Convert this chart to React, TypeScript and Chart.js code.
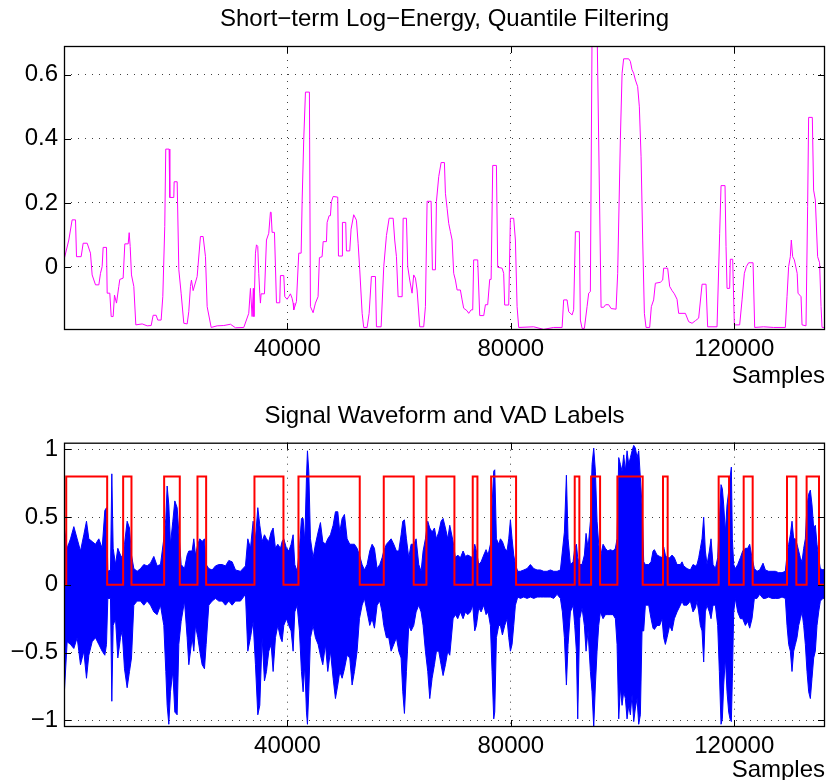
import React, { useEffect, useRef } from 'react';
import { Chart, registerables } from 'chart.js';

Chart.register(...registerables);

// ---------- data ----------
const X_MAX = 136250;

const xTickValues = [40000, 80000, 120000];
const xTickLabels = ['40000', '80000', '120000'];

const energyTickValues = [0, 0.2, 0.4, 0.6];
const energyTickLabels = ['0', '0.2', '0.4', '0.6'];

const waveTickValues = [-1, -0.5, 0, 0.5, 1];
const waveTickLabels = ['\u22121', '\u22120.5', '0', '0.5', '1'];

const energyX = [
  0, 860, 1460, 2060, 2240, 3070, 3430, 4150, 4740, 5040, 5640, 6240, 6530, 6830, 7010, 7610, 7730, 8200, 8450, 8800,
  9040, 9400, 9810, 9990, 10590, 10890, 11490, 11670, 11850, 12080, 12500, 12860, 14000, 14890, 15610, 15960, 16500,
  16790, 17390, 17690, 18040, 18220, 18820, 18940, 19660, 19720, 20260, 20560, 20970, 21450, 22050, 22340, 22640,
  22820, 23120, 23840, 24430, 24910, 25330, 25630, 26350, 27420, 28610, 29800, 30700, 32190, 33080,
  33380, 33680, 33900, 34000, 34280, 34460, 34690, 34870, 35050, 35170, 35290, 35890, 36250, 36660, 36960, 37080,
  37260, 37680, 37860, 38040, 38630, 38750, 39350, 39530, 39950, 40240, 40540, 40840, 41020, 41140, 41620, 42030,
  42460, 42640, 42920, 43230, 43940, 44120, 44600, 45020, 45490, 45730, 46210, 46400, 46990, 47110, 47470, 47700,
  47880, 48190, 49010, 49140, 49790, 49850, 50440, 50570, 51160, 51400, 51870, 52360, 52660, 52950, 53380, 53660,
  54270, 54630, 55040, 55760, 55940, 56780, 57250, 57730, 58210, 58930, 59210, 59520, 59820, 60540, 60720, 61310,
  61540, 61900, 62320, 62610, 62920, 63220, 63690, 64400, 64710, 65010, 65730, 65960, 66500, 66680, 67090, 67520,
  68110, 68290, 68590, 68880, 69180, 69490, 69770, 70080, 70380, 70970, 71280, 71560, 72170, 72460, 72890, 73180,
  73350, 74070, 74430, 75150, 75450, 75860, 76220, 76470, 76760, 77420, 77650, 78440, 78720, 78900, 79620, 79920,
  80510, 80820, 81120, 81410, 84090, 85880, 87670, 89180, 89460, 90070, 90360, 90970, 91250, 91560, 92270, 92450,
  92760, 93170, 93650, 93940, 94240, 94550, 95440, 96160, 96620, 96980, 97520, 97950, 98840, 99130, 99610, 99920,
  100200, 101100, 101400, 101700, 101990, 102300, 102710, 103010, 103320, 103610, 103910, 104210, 104860, 105160,
  105570, 105880, 106770, 107190, 107360, 108080, 108440, 108870, 109280, 109760, 110050, 111250, 111840, 112450,
  113040, 113630, 114240, 114950, 115240, 116920, 117390, 117640, 118350, 118530, 118710, 119180, 119300, 119720,
  120020, 120970, 121400, 121810, 122170, 122580, 123370, 123660, 125260, 127050, 129150, 129450, 129740, 130040,
  130220, 130460, 130760, 131270, 131420, 131960, 132140, 132850, 133140, 133320, 133980, 134210, 134520, 134930,
  135280, 135540, 135720, 136250,
];
const energyY = [
  0.022, 0.084, 0.147, 0.147, 0.032, 0.032, 0.074, 0.074, 0.043, -0.025, -0.056, -0.056, -0.02, 0.001, 0.061, 0.061,
  -0.082, -0.082, -0.155, -0.155, -0.088, -0.113, -0.061, -0.039, -0.035, 0.072, 0.072, 0.107, 0.064, -0.025, -0.061,
  -0.181, -0.178, -0.184, -0.183, -0.151, -0.151, -0.166, -0.166, -0.093, 0.126, 0.368, 0.368, 0.217, 0.217, 0.266,
  0.266, -0.009, -0.082, -0.176, -0.178, -0.14, -0.061, -0.041, -0.074, -0.03, 0.095, 0.095, 0.032, -0.124, -0.189,
  -0.184, -0.183, -0.179, -0.19, -0.189, -0.145,
  -0.067, -0.155, -0.067, -0.155, 0.043, 0.069, 0.064, -0.02, -0.082, -0.113, -0.084, -0.084, 0.084, 0.105, 0.171,
  0.171, 0.108, 0.108, 0.001, -0.112, -0.112, -0.027, -0.027, -0.093, -0.101, -0.093, -0.084, -0.098, -0.113, -0.134,
  -0.108, 0.043, 0.043, 0.209, 0.397, 0.546, 0.546, -0.124, -0.143, -0.113, -0.093, 0.029, 0.032, 0.079, 0.079,
  0.139, 0.16, 0.16, 0.204, 0.22, 0.218, 0.034, 0.034, 0.139, 0.139, 0.05, 0.05, 0.118, 0.163, 0.146, 0.074, -0.009,
  -0.145, -0.189, -0.189, -0.145, -0.03, -0.03, -0.187, -0.187, 0.001, 0.098, 0.152, 0.152, 0.084, 0.032, -0.093,
  -0.093, 0.152, 0.152, 0.001, -0.041, -0.082, -0.025, -0.035, -0.072, -0.187, -0.187, -0.124, 0.205, 0.205, -0.009,
  -0.009, 0.204, 0.282, 0.326, 0.326, 0.23, 0.183, 0.136, 0.11, 0.084, -0.02, -0.041, -0.072, -0.072, -0.103,
  -0.129, -0.137, -0.145, -0.134, -0.134, 0.022, 0.022, -0.152, -0.152, -0.118, -0.118, -0.039, -0.039, 0.317, 0.317,
  -0.001, -0.004, -0.02, -0.119, -0.119, 0.152, 0.152, 0.084, -0.124, -0.189, -0.187, -0.195, -0.189, -0.189,
  -0.103, -0.103, -0.14, -0.15, -0.134, 0.11, 0.11, -0.166, -0.192, -0.192, -0.124, -0.082, -0.077, 0.75, 0.75,
  -0.126, -0.126, -0.118, -0.118, -0.13, -0.132, -0.02, 0.397, 0.605, 0.65, 0.65, 0.642, 0.616, 0.605, 0.584,
  0.563, 0.5, 0.344, 0.084, -0.145, -0.189, -0.189, -0.124, -0.103, -0.051, -0.048, -0.041, -0.004, -0.004, -0.061,
  -0.074, -0.084, -0.101, -0.145, -0.145, -0.171, -0.176, -0.168, -0.16, -0.054, -0.054, -0.187, -0.187, 0.105,
  0.254, 0.254, 0.064, -0.067, -0.067, 0.024, 0.024, -0.181, -0.181, -0.103, -0.02, 0.001, 0.013, 0.013, -0.189,
  -0.187, -0.189, -0.189, -0.093, 0.001, 0.032, 0.084, 0.032, 0.022, -0.02, -0.082, -0.093, -0.181, -0.184, 0.188,
  0.467, 0.467, 0.24, 0.209, 0.032, 0.013, -0.124, -0.189, -0.189,
];

const waveX = [
  0, 567, 1163, 1760, 2357, 2954, 3550, 4028, 4445, 5042, 5639, 6235, 6832, 7310, 7608, 7847, 8324, 8563, 8801, 9219,
  9637, 10114, 10412, 10830, 11307, 11725, 12083, 12501, 13097, 13694, 14291, 14888, 15484, 16081, 16678, 17274,
  17871, 18230, 18468, 18767, 19065, 19483, 19841, 20258, 20557, 20974, 21571, 22048, 22347, 22943, 23242, 23540,
  23958, 24316, 24733, 25151, 25450, 25927, 26524, 27120, 27717, 28314, 28910, 29507, 30104, 30700, 31595, 32490,
  32908, 33385, 33862, 34280, 34698, 35056,
  35472, 35890, 36248, 36666, 37084, 37442, 37859, 38277, 38754, 39053, 39351, 39828, 40246, 40664, 41022, 41320,
  41738, 42155, 42513, 42812, 43110, 43409, 43588, 43826, 44125, 44602, 45020, 45497, 45915, 46333, 46810, 47227,
  47705, 48182, 48600, 49018, 49376, 49793, 50211, 50688, 51166, 51583, 52001, 52478, 52896, 53373, 53791, 54268,
  54746, 55164, 55581, 56059, 56536, 56954, 57252, 57729, 58147, 58565, 59042, 59519, 59937, 60355, 60654, 60952,
  61310, 61727, 62145, 62622, 63040, 63517, 63935, 64293, 64711, 65128, 65486, 65904, 66322, 66680, 67098, 67515,
  67873, 68291, 68709, 69067,
  69661, 70079, 70497, 70974, 71452, 71869, 72287, 72764, 73182, 73540, 73838, 74256, 74674, 75151, 75569, 75927,
  76345, 76643, 76941, 77120, 77419, 77836, 78135, 78493, 78910, 79328, 79626, 79925, 80223, 80521, 80820, 81237,
  81715, 82312, 82908, 83505, 84102, 84698, 85295, 85892, 86488, 87085, 87682, 88279, 88875, 89233, 89591, 89949,
  90248, 90665, 91143, 91441, 91740, 91978, 92336, 92754, 93171, 93470, 93828, 94246, 94544, 94842, 95141, 95439,
  95737, 96036, 96513, 96931, 97348, 97826, 98303, 98721, 99019, 99318, 99616, 99915, 100213, 100511, 100810,
  101108, 101406, 101705, 102003, 102302, 102600, 102898,
  103194, 103492, 103791, 104089, 104686, 105104, 105462, 105700, 106178, 106655, 107073, 107371, 107669, 107968,
  108445, 108863, 109280, 109758, 110355, 110653, 110951, 111548, 112145, 112622, 113040, 113338, 113636, 113935,
  114233, 114531, 114830, 115128, 115546, 115844, 116202, 116620, 117038, 117336, 117634, 117873, 118112, 118410,
  118708, 119007, 119245, 119484, 119663, 119902, 120200, 120618, 121095, 121513, 121990, 122408, 122766, 123184,
  123601, 124079, 124556, 125153, 125571, 126167, 126764, 127360, 127957, 128554, 129151, 129449, 129747, 130046,
  130344, 130642, 130941, 131239, 131538, 131836, 132134, 132433, 132731, 133030, 133328, 133626, 133925, 134223,
  134521, 134820, 135118, 135416, 135894, 136250,
];
const waveUpper = [
  0.44, 0.27, 0.34, 0.43, 0.34, 0.25, 0.37, 0.47, 0.34, 0.32, 0.30, 0.34, 0.27, 0.55, 0.57, 0.10, 0.11, 0.82, 0.27,
  0.15, 0.27, 0.22, 0.20, 0.30, 0.47, 0.42, 0.22, 0.12, 0.10, 0.12, 0.15, 0.14, 0.16, 0.21, 0.14, 0.15, 0.34, 0.49,
  0.73, 0.59, 0.30, 0.47, 0.62, 0.57, 0.39, 0.15, 0.12, 0.22, 0.25, 0.25, 0.34, 0.22, 0.30, 0.34, 0.32, 0.34, 0.15,
  0.12, 0.11, 0.14, 0.15, 0.15, 0.14, 0.18, 0.17, 0.11, 0.10, 0.14, 0.34, 0.27, 0.47, 0.34, 0.57, 0.44,
  0.32, 0.37, 0.34, 0.32, 0.39, 0.42, 0.27, 0.30, 0.27, 0.32, 0.34, 0.27, 0.25, 0.30, 0.37, 0.15, 0.10, 0.27, 0.49,
  0.49, 0.32, 0.79, 0.99, 0.84, 0.34, 0.20, 0.30, 0.39, 0.46, 0.32, 0.30, 0.34, 0.37, 0.44, 0.54, 0.54, 0.39, 0.49,
  0.52, 0.34, 0.30, 0.30, 0.30, 0.27, 0.22, 0.15, 0.11, 0.15, 0.25, 0.30, 0.27, 0.12, 0.15, 0.20, 0.25, 0.30, 0.32,
  0.34, 0.30, 0.25, 0.25, 0.37, 0.47, 0.48, 0.34, 0.20, 0.30, 0.30, 0.34, 0.15, 0.10, 0.25, 0.34, 0.47, 0.42, 0.39,
  0.42, 0.34, 0.39, 0.47, 0.49, 0.42, 0.34, 0.44,
  0.32, 0.20, 0.22, 0.20, 0.25, 0.21, 0.22, 0.21, 0.20, 0.30, 0.25, 0.15, 0.17, 0.22, 0.26, 0.22, 0.30, 0.59, 0.84,
  0.85, 0.34, 0.30, 0.34, 0.32, 0.27, 0.25, 0.34, 0.48, 0.34, 0.22, 0.15, 0.10, 0.10, 0.11, 0.12, 0.15, 0.12, 0.11,
  0.11, 0.10, 0.10, 0.11, 0.10, 0.10, 0.11, 0.25, 0.39, 0.81, 0.34, 0.15, 0.17, 0.27, 0.30, 0.20, 0.15, 0.15, 0.22,
  0.38, 0.27, 0.47, 0.89, 1.01, 0.84, 0.47, 0.30, 0.20, 0.30, 0.27, 0.25, 0.26, 0.25, 0.27, 0.34, 0.94, 0.89, 0.84,
  0.96, 0.84, 0.99, 0.89, 0.94, 0.99, 1.03, 1.01, 0.94, 0.99,
  0.79, 0.59, 0.17, 0.15, 0.15, 0.17, 0.25, 0.26, 0.22, 0.21, 0.20, 0.28, 0.22, 0.20, 0.20, 0.22, 0.20, 0.15, 0.15,
  0.17, 0.14, 0.12, 0.11, 0.15, 0.14, 0.15, 0.20, 0.27, 0.34, 0.50, 0.25, 0.15, 0.25, 0.34, 0.15, 0.12, 0.20, 0.47,
  0.74, 0.71, 0.59, 0.39, 0.59, 0.69, 0.79, 0.87, 0.34, 0.15, 0.12, 0.15, 0.20, 0.25, 0.27, 0.27, 0.30, 0.20, 0.12,
  0.10, 0.11, 0.16, 0.11, 0.10, 0.10, 0.10, 0.09, 0.09, 0.10, 0.22, 0.30, 0.37, 0.47, 0.34, 0.34, 0.30, 0.25, 0.20,
  0.17, 0.27, 0.34, 0.59, 0.67, 0.70, 0.59, 0.42, 0.44, 0.30, 0.20, 0.12, 0.11, 0.12,
];
const waveLower = [
  -0.84, -0.42, -0.44, -0.47, -0.39, -0.59, -0.49, -0.69, -0.52, -0.42, -0.39, -0.44, -0.49, -0.52, -0.44, -0.10,
  -0.10, -0.86, -0.30, -0.25, -0.54, -0.39, -0.34, -0.62, -0.76, -0.64, -0.54, -0.15, -0.12, -0.12, -0.15, -0.12,
  -0.15, -0.20, -0.22, -0.15, -0.30, -0.64, -0.89, -1.03, -0.79, -0.64, -0.94, -0.96, -0.44, -0.27, -0.12, -0.39,
  -0.59, -0.39, -0.49, -0.30, -0.39, -0.49, -0.59, -0.62, -0.44, -0.15, -0.12, -0.10, -0.12, -0.12, -0.15, -0.12,
  -0.15, -0.12, -0.12, -0.07, -0.49, -0.39, -0.27, -0.59, -0.96, -0.89,
  -0.39, -0.71, -0.64, -0.49, -0.44, -0.64, -0.39, -0.30, -0.39, -0.42, -0.30, -0.25, -0.30, -0.34, -0.49, -0.20,
  -0.15, -0.34, -0.64, -0.79, -0.59, -0.94, -1.03, -0.79, -0.39, -0.30, -0.39, -0.44, -0.52, -0.59, -0.44, -0.64,
  -0.49, -0.69, -0.84, -0.74, -0.64, -0.69, -0.62, -0.52, -0.54, -0.74, -0.64, -0.49, -0.25, -0.15, -0.10, -0.20,
  -0.30, -0.25, -0.32, -0.15, -0.12, -0.20, -0.30, -0.39, -0.39, -0.49, -0.44, -0.39, -0.49, -0.54, -0.79, -0.95,
  -0.64, -0.30, -0.34, -0.30, -0.20, -0.15, -0.20, -0.30, -0.49, -0.64, -0.84, -0.69, -0.59, -0.49, -0.49, -0.59,
  -0.67, -0.59, -0.49, -0.52,
  -0.25, -0.22, -0.25, -0.20, -0.25, -0.20, -0.22, -0.20, -0.15, -0.34, -0.30, -0.17, -0.20, -0.15, -0.22, -0.20,
  -0.30, -0.64, -0.99, -0.94, -0.39, -0.30, -0.30, -0.37, -0.30, -0.25, -0.39, -0.49, -0.44, -0.30, -0.15, -0.09,
  -0.10, -0.09, -0.10, -0.09, -0.10, -0.09, -0.09, -0.09, -0.09, -0.09, -0.10, -0.07, -0.10, -0.20, -0.39, -0.74,
  -0.44, -0.20, -0.15, -0.30, -0.49, -0.99, -0.25, -0.17, -0.30, -0.49, -0.34, -0.64, -0.79, -1.05, -0.74, -0.49,
  -0.30, -0.20, -0.25, -0.22, -0.22, -0.22, -0.22, -0.25, -0.44, -0.99, -0.76, -0.89, -0.79, -0.84, -0.99, -0.89,
  -0.96, -0.81, -1.01, -0.91, -0.84, -1.03,
  -0.96, -0.34, -0.34, -0.15, -0.15, -0.25, -0.32, -0.33, -0.30, -0.30, -0.25, -0.39, -0.44, -0.39, -0.30, -0.34,
  -0.25, -0.20, -0.15, -0.12, -0.15, -0.15, -0.12, -0.20, -0.17, -0.12, -0.20, -0.30, -0.34, -0.57, -0.20, -0.15,
  -0.20, -0.25, -0.15, -0.15, -0.30, -0.64, -1.03, -0.99, -0.74, -0.54, -0.79, -0.94, -0.99, -1.01, -0.69, -0.20,
  -0.10, -0.20, -0.25, -0.25, -0.30, -0.27, -0.32, -0.25, -0.10, -0.10, -0.07, -0.10, -0.10, -0.09, -0.10, -0.10,
  -0.10, -0.09, -0.10, -0.30, -0.44, -0.49, -0.64, -0.49, -0.44, -0.39, -0.30, -0.25, -0.20, -0.30, -0.44, -0.64,
  -0.79, -0.84, -0.69, -0.54, -0.49, -0.30, -0.20, -0.12, -0.10, -0.10,
];

const vadX = [
  0, 400, 7730, 10590, 12080, 17930, 20730, 23900, 25450, 34100, 39290, 41980, 52950, 57250, 62610, 64890, 69900,
  73180, 74020, 76470, 80940, 91440, 92270, 94370, 95980, 99080, 103610, 107250, 108080, 117210, 119070, 121690,
  123300, 129450, 131120, 132960, 135180, 136250,
];
const vadY = [
  0, 0.8, 0, 0.8, 0, 0.8, 0, 0.8, 0, 0.8, 0, 0.8, 0, 0.8, 0, 0.8, 0, 0.8, 0, 0.8, 0, 0.8, 0, 0.8, 0, 0.8, 0, 0.8, 0,
  0.8, 0, 0.8, 0, 0.8, 0, 0.8, 0, 0,
];

const TITLE_TOP = 'Short\u2212term Log\u2212Energy, Quantile Filtering';
const TITLE_BOTTOM = 'Signal Waveform and VAD Labels';
const X_TITLE = 'Samples';

// ---------- styling ----------
const FAMILY = "'Liberation Sans', Arial, Helvetica, sans-serif";
const FONT = { family: FAMILY, size: 24, weight: 'normal' as const, lineHeight: 1.2 };
const GRID_COLOR = 'rgba(0,0,0,0.75)';

const toPoints = (xs: number[], ys: number[]) => xs.map((x, i) => ({ x, y: ys[i] }));

const matlabFrame = {
  id: 'matlabFrame',
  afterDatasetsDraw(chart: any) {
    const { ctx, chartArea: a, scales } = chart;
    const L = 7;
    ctx.save();
    ctx.strokeStyle = '#000';
    ctx.lineWidth = 1;
    ctx.setLineDash([]);
    ctx.beginPath();
    scales.x.ticks.forEach((t: any) => {
      const px = Math.round(scales.x.getPixelForValue(t.value)) + 0.5;
      ctx.moveTo(px, a.bottom);
      ctx.lineTo(px, a.bottom - L);
      ctx.moveTo(px, a.top);
      ctx.lineTo(px, a.top + L);
    });
    scales.y.ticks.forEach((t: any) => {
      const py = Math.round(scales.y.getPixelForValue(t.value)) + 0.5;
      ctx.moveTo(a.left, py);
      ctx.lineTo(a.left + L, py);
      ctx.moveTo(a.right, py);
      ctx.lineTo(a.right - L, py);
    });
    ctx.stroke();
    ctx.lineWidth = 1.3;
    ctx.strokeRect(a.left + 0.5, a.top + 0.5, a.right - a.left - 1, a.bottom - a.top - 1);
    ctx.restore();
  },
};

function makeOptions(cfg: {
  title: string;
  titlePad: { top: number; bottom: number };
  yMin: number;
  yMax: number;
  yTicks: number[];
  yLabels: string[];
  xAxisHeight: number;
  xTitlePadBottom: number;
}) {
  return {
    animation: false as const,
    responsive: false,
    maintainAspectRatio: false,
    events: [] as any[],
    layout: { padding: { left: 0, right: 1, top: 0, bottom: 0 } },
    plugins: {
      legend: { display: false },
      tooltip: { enabled: false },
      title: {
        display: true,
        fullSize: false,
        text: cfg.title,
        color: '#000',
        font: FONT,
        padding: cfg.titlePad,
      },
    },
    scales: {
      x: {
        type: 'linear' as const,
        min: 0,
        max: X_MAX,
        afterBuildTicks: (s: any) => {
          s.ticks = xTickValues.map((v) => ({ value: v }));
        },
        afterFit: (s: any) => {
          s.height = cfg.xAxisHeight;
        },
        ticks: {
          callback: (_v: any, i: number) => xTickLabels[i],
          font: FONT,
          color: '#000',
          padding: 5,
          maxRotation: 0,
          autoSkip: false,
        },
        grid: { color: GRID_COLOR, lineWidth: 1, drawTicks: false },
        border: { display: false, dash: [1, 6] },
        title: {
          display: true,
          text: X_TITLE,
          align: 'end' as const,
          color: '#000',
          font: FONT,
          padding: { top: 0, bottom: cfg.xTitlePadBottom },
        },
      },
      y: {
        type: 'linear' as const,
        min: cfg.yMin,
        max: cfg.yMax,
        afterBuildTicks: (s: any) => {
          s.ticks = cfg.yTicks.map((v) => ({ value: v }));
        },
        afterFit: (s: any) => {
          s.width = 64;
        },
        ticks: {
          callback: (_v: any, i: number) => cfg.yLabels[i],
          font: FONT,
          color: '#000',
          padding: 6,
          autoSkip: false,
        },
        grid: { color: GRID_COLOR, lineWidth: 1, drawTicks: false },
        border: { display: false, dash: [1, 6] },
      },
    },
  };
}

export default function App() {
  const topRef = useRef<HTMLCanvasElement | null>(null);
  const botRef = useRef<HTMLCanvasElement | null>(null);

  useEffect(() => {
    const top = new Chart(topRef.current as HTMLCanvasElement, {
      type: 'line',
      data: {
        datasets: [
          {
            data: toPoints(energyX, energyY),
            borderColor: '#ff00ff',
            borderWidth: 1,
            pointRadius: 0,
            tension: 0,
            fill: false,
          },
        ],
      },
      options: makeOptions({
        title: TITLE_TOP,
        titlePad: { top: 5, bottom: 12.2 },
        yMin: -0.197,
        yMax: 0.69,
        yTicks: energyTickValues,
        yLabels: energyTickLabels,
        xAxisHeight: 66,
        xTitlePadBottom: 5.6,
      }) as any,
      plugins: [matlabFrame],
    });

    const bot = new Chart(botRef.current as HTMLCanvasElement, {
      type: 'line',
      data: {
        datasets: [
          {
            data: toPoints(vadX, vadY),
            borderColor: '#ff0000',
            borderWidth: 2,
            pointRadius: 0,
            stepped: true,
            fill: false,
          },
          {
            data: toPoints(waveX, waveUpper),
            borderColor: '#0000ff',
            backgroundColor: '#0000ff',
            borderWidth: 1,
            pointRadius: 0,
            tension: 0,
            fill: '+1',
          },
          {
            data: toPoints(waveX, waveLower),
            borderColor: '#0000ff',
            borderWidth: 1,
            pointRadius: 0,
            tension: 0,
            fill: false,
          },
        ],
      },
      options: makeOptions({
        title: TITLE_BOTTOM,
        titlePad: { top: 6, bottom: 11.9 },
        yMin: -1.05,
        yMax: 1.05,
        yTicks: waveTickValues,
        yLabels: waveTickLabels,
        xAxisHeight: 53,
        xTitlePadBottom: -5,
      }) as any,
      plugins: [matlabFrame],
    });

    return () => {
      top.destroy();
      bot.destroy();
    };
  }, []);

  return (
    <div
      style={{
        position: 'fixed',
        left: 0,
        top: 0,
        width: 826,
        height: 780,
        overflow: 'hidden',
        background: '#fff',
      }}
    >
      <canvas
        ref={topRef}
        width={826}
        height={396}
        style={{ position: 'absolute', left: 0, top: 0, width: 826, height: 396 }}
      />
      <canvas
        ref={botRef}
        width={826}
        height={384}
        style={{ position: 'absolute', left: 0, top: 396, width: 826, height: 384 }}
      />
    </div>
  );
}
